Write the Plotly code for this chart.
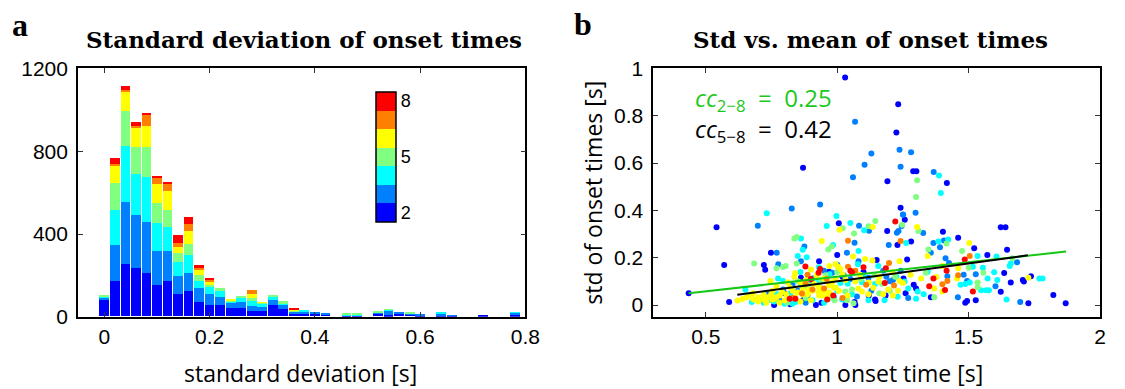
import plotly.graph_objects as go

W, H = 1125, 389

# ---------------- data: histogram (panel a) ----------------
bin_centers = [round(0.02 * i, 2) for i in range(40)]
levels = [2, 3, 4, 5, 6, 7, 8]
level_colors = ["rgb(0,0,255)", "rgb(0,128,255)", "rgb(0,255,255)", "rgb(128,255,128)",
                "rgb(255,255,0)", "rgb(255,128,0)", "rgb(255,0,0)"]

counts_2 = [79, 171, 253, 233, 211, 153, 171, 108, 122, 69, 54, 54, 39, 42, 27, 26, 54, 36, 15, 15,
            12, 10, 0, 3, 3, 0, 12, 8, 12, 10, 5, 0, 6, 4, 0, 0, 6, 0, 0, 9]
counts_3 = [10, 175, 299, 259, 245, 163, 145, 89, 89, 68, 54, 42, 27, 29, 24, 18, 24, 17, 8, 9,
            6, 8, 0, 3, 3, 0, 5, 22, 6, 6, 3, 0, 8, 2, 0, 0, 0, 0, 0, 8]
counts_4 = [8, 168, 269, 194, 216, 135, 114, 68, 87, 33, 32, 26, 8, 18, 21, 16, 18, 10, 3, 3,
            0, 0, 0, 3, 3, 0, 3, 2, 0, 0, 0, 0, 3, 0, 0, 0, 0, 0, 0, 1]
counts_5 = [4, 131, 169, 132, 146, 99, 84, 43, 52, 30, 10, 16, 4, 7, 18, 5, 6, 9, 3, 0,
            0, 0, 0, 3, 3, 0, 2, 2, 0, 2, 0, 0, 0, 0, 0, 0, 0, 0, 0, 0]
counts_6 = [0, 84, 96, 95, 102, 88, 91, 27, 61, 26, 18, 0, 3, 0, 18, 3, 0, 0, 2, 0,
            0, 0, 0, 0, 0, 0, 0, 0, 0, 0, 0, 0, 0, 0, 0, 0, 0, 0, 0, 0]
counts_7 = [0, 8, 7, 9, 55, 31, 33, 21, 36, 12, 9, 0, 0, 0, 21, 0, 0, 0, 2, 0,
            0, 0, 0, 0, 0, 0, 0, 0, 0, 0, 0, 0, 0, 0, 0, 0, 0, 0, 0, 0]
counts_8 = [0, 27, 20, 18, 10, 11, 10, 37, 33, 9, 5, 0, 0, 0, 0, 0, 0, 0, 3, 0,
            0, 0, 0, 0, 0, 0, 0, 0, 0, 0, 0, 0, 0, 0, 0, 0, 0, 0, 0, 0]
hist_counts = [counts_2, counts_3, counts_4, counts_5, counts_6, counts_7, counts_8]

# ---------------- data: scatter (panel b) ----------------
pts2_x = [1.030, 1.232, 1.225, 0.870, 1.289, 1.301, 1.191, 1.417, 1.241, 1.257, 1.006, 0.541, 1.622, 1.640,
          0.748, 0.570, 0.721, 0.726, 0.435, 0.589, 1.190, 1.229, 1.000, 0.931, 0.862, 1.031, 1.066, 1.146,
          1.184, 0.919, 0.825, 0.969, 1.402, 1.281, 1.460, 1.521, 1.266, 1.571, 1.646, 1.635, 1.252, 1.622,
          1.706, 1.710, 1.737, 1.660, 1.822, 1.727, 1.527, 1.487, 1.494, 1.356, 1.291, 1.300, 1.869, 0.821,
          1.144, 1.069, 0.800, 0.870, 1.100, 1.150, 0.760, 0.940, 1.120, 1.020, 1.260]
pts2_y = [0.962, 0.849, 0.729, 0.580, 0.565, 0.565, 0.523, 0.516, 0.411, 0.360, 0.346, 0.329, 0.329, 0.329,
          0.221, 0.169, 0.169, 0.149, 0.050, 0.013, 0.313, 0.254, 0.211, 0.185, 0.115, 0.000, 0.013, 0.017,
          0.040, 0.000, 0.007, 0.141, 0.310, 0.268, 0.284, 0.240, 0.192, 0.211, 0.234, 0.135, 0.112, 0.056,
          0.106, 0.099, 0.122, 0.095, 0.042, 0.007, 0.020, 0.010, 0.017, 0.033, 0.086, 0.070, 0.007, 0.003,
          0.023, 0.000, 0.050, 0.020, 0.140, 0.190, 0.000, 0.010, 0.040, 0.120, 0.050]

pts3_x = [1.068, 1.237, 1.281, 1.130, 1.104, 1.241, 1.367, 1.060, 0.935, 0.827, 1.298, 1.251, 0.698, 1.083,
          0.770, 0.776, 1.121, 1.227, 1.233, 1.245, 1.066, 1.196, 0.875, 0.862, 1.037, 0.906, 0.981, 1.025,
          1.119, 1.187, 0.794, 0.887, 0.987, 1.075, 1.212, 0.850, 1.081, 1.175, 1.250, 1.327, 1.366, 1.406,
          1.391, 1.356, 1.412, 1.684, 1.425, 1.527, 1.241, 1.419, 1.481, 1.494, 1.602, 1.696, 1.459, 0.737,
          0.780, 0.830, 0.900, 0.950, 1.000, 1.050, 1.130, 1.270, 1.200, 0.730, 0.880]
pts3_y = [0.775, 0.656, 0.646, 0.640, 0.593, 0.584, 0.562, 0.540, 0.425, 0.408, 0.390, 0.382, 0.335, 0.335,
          0.221, 0.172, 0.314, 0.305, 0.313, 0.334, 0.263, 0.254, 0.247, 0.185, 0.221, 0.112, 0.136, 0.126,
          0.115, 0.119, 0.066, 0.040, 0.033, 0.036, 0.106, 0.060, 0.185, 0.145, 0.383, 0.304, 0.262, 0.273,
          0.244, 0.221, 0.198, 0.181, 0.178, 0.130, 0.145, 0.122, 0.128, 0.102, 0.079, 0.013, 0.033, 0.046,
          0.020, 0.085, 0.100, 0.145, 0.170, 0.110, 0.060, 0.030, 0.100, 0.030, 0.010]

pts4_x = [1.387, 1.394, 0.732, 0.997, 1.050, 0.960, 0.775, 0.651, 0.675, 1.102, 0.862, 0.984, 1.081, 0.850,
          0.869, 0.884, 0.794, 0.862, 0.931, 1.012, 1.094, 1.144, 1.056, 1.019, 1.119, 0.906, 0.821, 1.156,
          1.079, 1.225, 1.256, 1.262, 1.385, 1.422, 1.534, 1.606, 1.656, 1.660, 1.516, 1.554, 1.597, 1.344,
          1.469, 1.487, 1.504, 1.547, 1.566, 1.577, 1.572, 1.609, 1.769, 1.781, 1.644, 1.306, 1.329, 1.300,
          0.760, 0.800, 0.840, 0.700, 0.950, 0.720, 0.770, 0.830, 0.880, 0.920, 0.970, 1.000, 1.040, 1.100,
          1.180, 1.230, 1.270, 0.860, 0.930]
pts4_y = [0.547, 0.474, 0.388, 0.376, 0.347, 0.334, 0.112, 0.065, 0.013, 0.316, 0.281, 0.254, 0.228, 0.207,
          0.234, 0.202, 0.102, 0.086, 0.096, 0.093, 0.096, 0.089, 0.046, 0.023, 0.020, 0.020, 0.049, 0.165,
          0.172, 0.119, 0.099, 0.262, 0.268, 0.277, 0.207, 0.205, 0.165, 0.176, 0.162, 0.158, 0.139, 0.141,
          0.086, 0.089, 0.095, 0.062, 0.062, 0.062, 0.112, 0.106, 0.112, 0.112, 0.023, 0.057, 0.046, 0.027,
          0.015, 0.005, 0.012, 0.020, 0.010, 0.010, 0.045, 0.005, 0.075, 0.115, 0.130, 0.060, 0.090, 0.125,
          0.020, 0.035, 0.070, 0.140, 0.160]

pts5_x = [1.304, 1.300, 1.247, 1.145, 0.684, 1.021, 1.119, 0.846, 0.837, 1.064, 0.966, 0.979, 0.794, 0.804,
          0.846, 1.031, 1.056, 1.037, 1.062, 0.931, 0.956, 1.141, 1.200, 0.769, 1.309, 1.416, 1.475, 1.347,
          1.666, 1.500, 1.556, 1.337, 1.534, 1.534, 1.369, 0.810, 0.880, 0.990, 1.170, 0.740, 0.850, 0.890,
          0.940, 1.000, 1.090, 1.160, 1.220, 0.980]
pts5_y = [0.527, 0.457, 0.339, 0.355, 0.176, 0.324, 0.333, 0.287, 0.281, 0.302, 0.235, 0.247, 0.161, 0.165,
          0.176, 0.057, 0.066, 0.020, 0.007, 0.079, 0.126, 0.126, 0.060, 0.155, 0.313, 0.260, 0.228, 0.235,
          0.198, 0.158, 0.136, 0.136, 0.095, 0.075, 0.033, 0.010, 0.030, 0.020, 0.090, 0.020, 0.100, 0.085,
          0.105, 0.140, 0.110, 0.050, 0.120, 0.030]

pts6_x = [1.135, 1.304, 0.746, 0.621, 0.673, 0.681, 0.700, 0.721, 0.721, 0.737, 0.749, 0.755, 0.769, 1.009,
          0.941, 0.994, 1.003, 1.012, 0.837, 0.812, 0.769, 0.754, 0.781, 0.762, 0.800, 0.837, 0.869, 0.891,
          0.912, 0.931, 0.950, 0.969, 0.994, 1.031, 1.069, 1.094, 1.119, 1.137, 1.156, 1.175, 1.194, 1.212,
          1.231, 1.250, 1.106, 1.134, 1.237, 1.087, 0.994, 0.950, 0.922, 0.656, 0.806, 0.831, 0.850, 0.869,
          0.888, 0.906, 0.931, 0.944, 0.969, 0.988, 1.006, 1.502, 1.344, 1.400, 1.460, 1.279, 1.319, 1.377,
          1.456, 1.369, 1.400, 1.237, 1.727, 0.860, 0.780, 0.700, 0.730, 0.790, 0.820, 0.860, 0.880, 0.900,
          0.930, 0.960, 0.980, 1.020, 1.040, 1.080, 1.120, 1.160, 1.210, 0.840, 0.900, 0.970, 1.060, 0.680,
          0.640]
pts6_y = [0.330, 0.330, 0.102, 0.019, 0.040, 0.023, 0.033, 0.042, 0.023, 0.033, 0.046, 0.023, 0.033, 0.318,
          0.271, 0.172, 0.162, 0.152, 0.119, 0.096, 0.079, 0.060, 0.040, 0.026, 0.020, 0.033, 0.046, 0.066,
          0.089, 0.040, 0.060, 0.083, 0.073, 0.106, 0.099, 0.057, 0.046, 0.073, 0.099, 0.046, 0.066, 0.040,
          0.060, 0.093, 0.194, 0.188, 0.185, 0.128, 0.112, 0.112, 0.126, 0.033, 0.046, 0.060, 0.053, 0.066,
          0.046, 0.060, 0.073, 0.040, 0.053, 0.073, 0.060, 0.262, 0.207, 0.165, 0.155, 0.128, 0.112, 0.118,
          0.112, 0.070, 0.057, 0.102, 0.115, 0.015, 0.010, 0.015, 0.010, 0.055, 0.075, 0.095, 0.105, 0.020,
          0.055, 0.035, 0.095, 0.130, 0.040, 0.070, 0.095, 0.120, 0.140, 0.135, 0.150, 0.165, 0.205, 0.050,
          0.025]

pts7_x = [1.041, 1.241, 0.887, 0.906, 0.866, 1.041, 1.110, 1.069, 1.216, 1.197, 1.504, 1.419, 1.460, 1.400,
          0.830, 0.960, 0.950, 1.020, 0.880]
pts7_y = [0.272, 0.271, 0.128, 0.066, 0.049, 0.162, 0.086, 0.145, 0.083, 0.178, 0.207, 0.102, 0.126, 0.088,
          0.030, 0.110, 0.070, 0.030, 0.090]

pts8_x = [1.221, 0.879, 0.935, 0.929, 1.050, 1.056, 1.185, 0.985, 0.819, 0.841, 0.962, 1.181, 1.485, 1.366,
          1.516, 1.410, 1.350, 1.416, 0.900, 1.100]
pts8_y = [0.353, 0.163, 0.152, 0.136, 0.145, 0.139, 0.155, 0.040, 0.027, 0.027, 0.023, 0.093, 0.192, 0.112,
          0.057, 0.063, 0.079, 0.145, 0.110, 0.160]

scatter_x = [pts2_x, pts3_x, pts4_x, pts5_x, pts6_x, pts7_x, pts8_x]
scatter_y = [pts2_y, pts3_y, pts4_y, pts5_y, pts6_y, pts7_y, pts8_y]

fit_all_x = [0.435, 1.870]      # cc 2-8 regression line
fit_all_y = [0.050, 0.226]
fit_high_x = [0.620, 1.725]     # cc 5-8 regression line
fit_high_y = [0.043, 0.210]

cc_all_label = "<i>cc</i><sub>2−8</sub>&nbsp; = &nbsp;0.25"
cc_high_label = "<i>cc</i><sub>5−8</sub>&nbsp; = &nbsp;0.42"
cc_green = "rgb(30,200,30)"

# ---------------- layout geometry (pixels) ----------------
def px(x):
    return x / W

def py(y):
    return 1 - y / H

plot_top, plot_bot = 60, 324
xa_dom = [px(79), px(532.5)]
xb_dom = [px(662), px(1115)]
y_dom = [py(plot_bot), py(plot_top)]

fig = go.Figure()

# histogram bars
for lev, col, cnt in zip(levels, level_colors, hist_counts):
    fig.add_trace(go.Bar(x=bin_centers, y=cnt, width=0.0185, marker=dict(color=col, line=dict(width=0)),
                         showlegend=False, xaxis="x", yaxis="y", hoverinfo="skip"))

# discrete jet colorbar
cs = []
n = len(levels)
for i, col in enumerate(level_colors):
    cs.append([i / n, col])
    cs.append([(i + 1) / n, col])
fig.add_trace(go.Scatter(x=[None], y=[None], mode="markers", showlegend=False, xaxis="x", yaxis="y",
                         marker=dict(color=[5], colorscale=cs, cmin=1.5, cmax=8.5, showscale=True,
                                     colorbar=dict(x=px(381), xanchor="left", xpad=0, thickness=20,
                                                   thicknessmode="pixels", len=130, lenmode="pixels",
                                                   y=py(154), yanchor="middle", ypad=0,
                                                   outlinewidth=1.5, outlinecolor="black",
                                                   tickvals=[2, 5, 8], ticks="",
                                                   tickfont=dict(family="Liberation Sans", size=18, color="black")))))

# scatter points
for lev, col, xs, ys in zip(levels, level_colors, scatter_x, scatter_y):
    fig.add_trace(go.Scatter(x=xs, y=ys, mode="markers", marker=dict(color=col, size=6, line=dict(width=0)),
                             showlegend=False, xaxis="x2", yaxis="y2", hoverinfo="skip"))

fig.add_trace(go.Scatter(x=fit_all_x, y=fit_all_y, mode="lines", line=dict(color="rgb(20,200,20)", width=2),
                         showlegend=False, xaxis="x2", yaxis="y2"))
fig.add_trace(go.Scatter(x=fit_high_x, y=fit_high_y, mode="lines", line=dict(color="black", width=2),
                         showlegend=False, xaxis="x2", yaxis="y2"))

tickfont = dict(family="Liberation Sans", size=21, color="black")
axis_common = dict(showline=True, linecolor="black", linewidth=1.5, mirror="ticks", ticks="inside",
                   ticklen=5, tickwidth=1.2, tickcolor="#333", showgrid=False, zeroline=False,
                   tickfont=tickfont)

fig.update_layout(
    width=W, height=H, margin=dict(l=0, r=0, t=0, b=0),
    paper_bgcolor="white", plot_bgcolor="white", barmode="stack", bargap=0,
    xaxis=dict(domain=xa_dom, range=[-0.05, 0.8], tickvals=[0, 0.2, 0.4, 0.6, 0.8], anchor="y", **axis_common),
    yaxis=dict(domain=y_dom, range=[0, 1200], tickvals=[0, 400, 800, 1200], anchor="x",
               ticklabelstandoff=4, **axis_common),
    xaxis2=dict(domain=xb_dom, range=[0.3, 2.0], tickvals=[0.5, 1, 1.5, 2], anchor="y2", **axis_common),
    yaxis2=dict(domain=y_dom, range=[-0.05, 1.0], tickvals=[0, 0.2, 0.4, 0.6, 0.8, 1], anchor="x2",
                ticklabelstandoff=4, **axis_common),
)

title_font = dict(family="DejaVu Serif", size=23, color="black")
label_font = dict(family="Open Sans", size=23, color="black")
anns = [
    dict(x=px(308), y=py(29), text="<b>Standard deviation of onset times</b>", font=title_font),
    dict(x=px(882), y=py(29), text="<b>Std vs. mean of onset times</b>", font=title_font),
    dict(x=px(20), y=py(14), text="<b>a</b>", font=dict(family="Liberation Serif", size=32, color="black")),
    dict(x=px(591), y=py(13), text="<b>b</b>", font=dict(family="Liberation Serif", size=32, color="black")),
    dict(x=px(305), y=py(384), text="standard deviation [s]", font=label_font),
    dict(x=px(888), y=py(384), text="mean onset time [s]", font=label_font),
    dict(x=px(601), y=py(192), text="std of onset times [s]", font=label_font, textangle=-90),
]
for a in anns:
    fig.add_annotation(xref="paper", yref="paper", showarrow=False, xanchor="center", yanchor="middle", **a)

# both correlation labels in one two-line text block
cc_text = f"<span style='color:{cc_green}'>{cc_all_label}</span><br>{cc_high_label}"
fig.add_annotation(xref="x2", yref="y2", x=0.45, y=0.805, text=cc_text, showarrow=False, align="left",
                   xanchor="left", yanchor="middle", font=dict(family="Open Sans", size=24, color="black"))

fig.write_html("out.html")
